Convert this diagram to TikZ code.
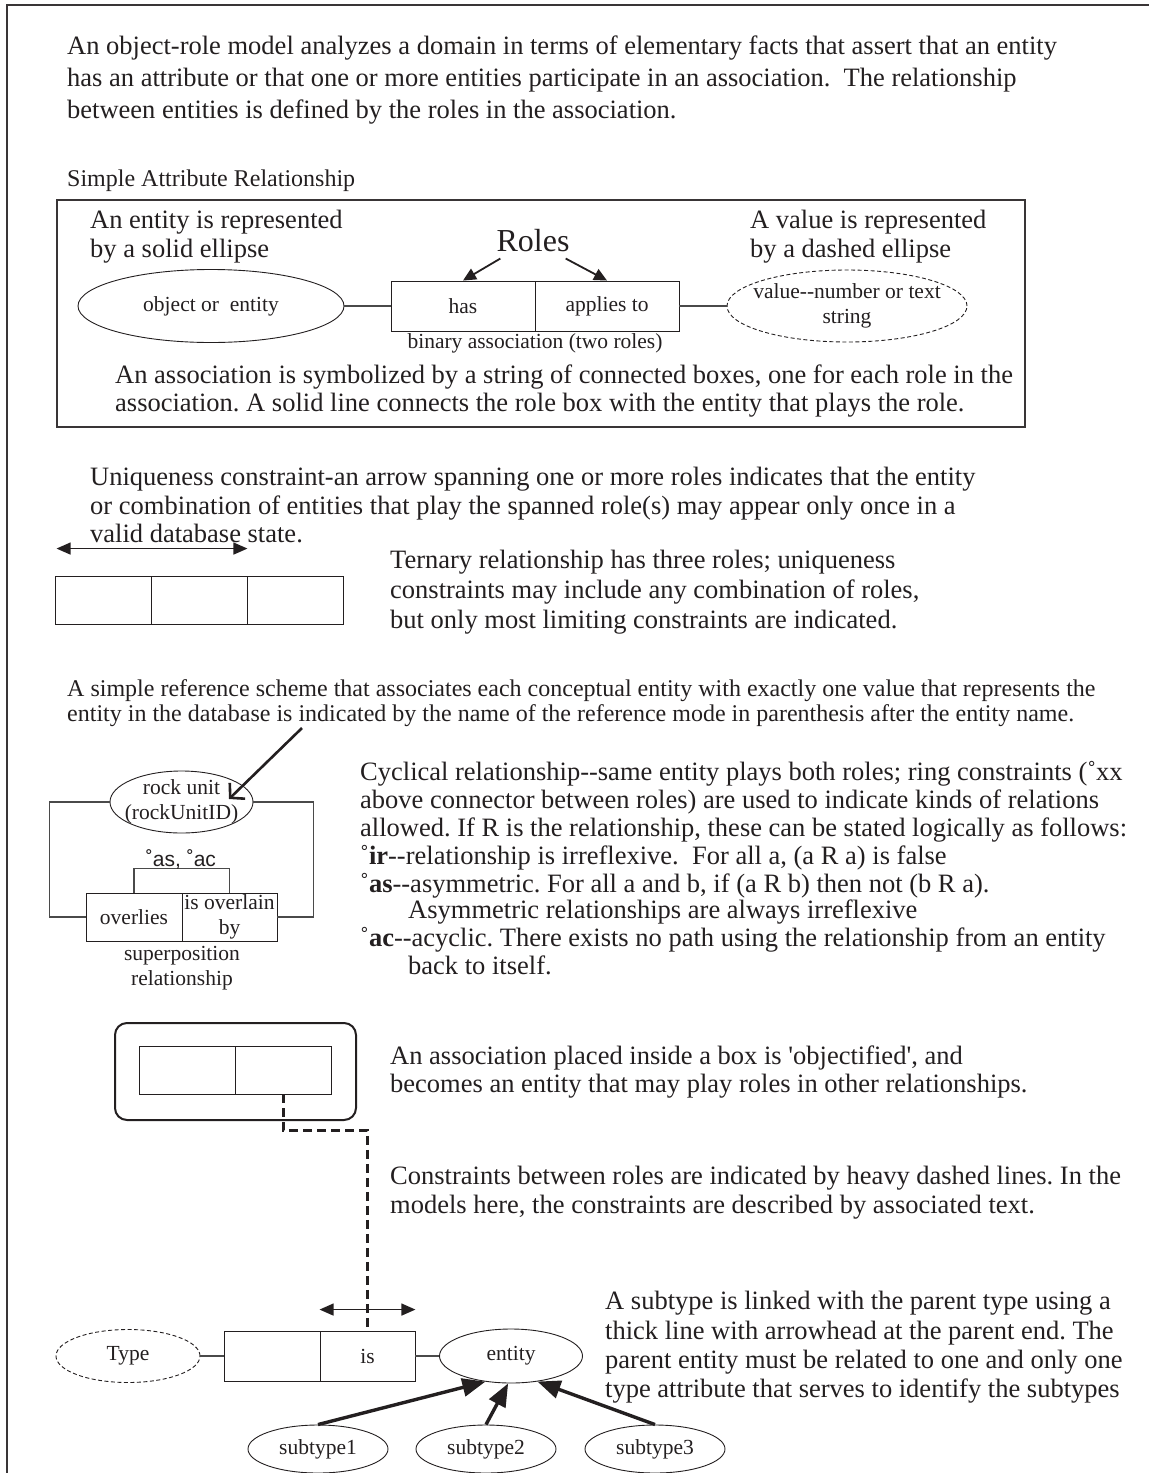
\documentclass[tikz,border=0pt]{standalone}
\usepackage{fontspec}
\setmainfont{Liberation Serif}
\newfontfamily\labelsans{Liberation Sans}
\usetikzlibrary{shapes.geometric,arrows.meta,calc}
\definecolor{ink}{HTML}{231F20}
\definecolor{wire}{HTML}{4A4A4A}
\frenchspacing

\begin{document}
\begin{tikzpicture}[x=1pt,y=-1pt,
  txt/.style={font=\fontsize{26.5}{30}\selectfont, text=ink, inner sep=0, anchor=base west},
  midtxt/.style={txt, font=\fontsize{24}{28}\selectfont},
  lbl/.style={font=\fontsize{21.5}{25}\selectfont, text=ink, inner sep=0, align=center},
  ent/.style={ellipse, draw=ink, line width=0.9, inner sep=0},
  val/.style={ent, dash pattern=on 4pt off 2.5pt},
  role/.style={rectangle, draw=ink, line width=0.9, lbl},
  link/.style={draw=wire, line width=1.3},
  panel/.style={draw=ink!90, line width=2},
  uniq/.style={draw=ink, line width=1.3, {Triangle[length=14pt,width=12pt]}-{Triangle[length=14pt,width=12pt]}},
  rolearrow/.style={draw=ink, line width=1.8, -{Triangle[length=13pt,width=12pt]}},
  refarrow/.style={draw=ink, line width=2.6, -{Straight Barb[length=10pt,width=22pt,line width=2.6pt]}},
  subarrow/.style={draw=ink, line width=3.4, -{Triangle[length=23pt,width=18pt]}},
  heavydash/.style={draw=ink, line width=3, dash pattern=on 9pt off 5pt},
]
\useasboundingbox (0,0) rectangle (1149,1473);

% page frame (top and left rules)
\draw[panel] (7,1473) -- (7,5) -- (1149,5);

% introduction
\node[txt] (introA) at (67,54) {An object-role model analyzes a domain in terms of elementary facts that assert that an entity};
\node[txt] (introB) at (67,86) {has an attribute or that one or more entities participate in an association.\ \ The relationship};
\node[txt] (introC) at (67,118) {between entities is defined by the roles in the association.};

% ---- simple attribute relationship
\node[midtxt] (satitle) at (67,186) {Simple Attribute Relationship};
\draw[panel] (57,200) rectangle (1025,427);

\node[txt] (entA) at (90,228) {An entity is represented};
\node[txt] (entB) at (90,257) {by a solid ellipse};
\node[txt] (valA) at (750,228) {A value is represented};
\node[txt] (valB) at (750,257) {by a dashed ellipse};

\node[ent, minimum width=266, minimum height=73,
      label={[lbl]center:object or\ \ entity}] (obj) at (211,306) {};
\node[role, minimum width=144, minimum height=50] (has) at (463,306) {has};
\node[role, minimum width=144, minimum height=50] (applies) at (607,306) {applies to};
\node[val, minimum width=240, minimum height=72,
      label={[lbl]center:value-{}-number or text\\string}] (value) at (847,306) {};
\draw[link] (obj.east) -- (has.west);
\draw[link] (applies.east) -- (value.west);

\node[font=\fontsize{32}{36}\selectfont, text=ink, inner sep=0, anchor=base] (roles) at (533,251) {Roles};
\draw[rolearrow] ($(roles.south west)+(4,7)$) -- (has.north);
\draw[rolearrow] ($(roles.south east)+(-4,7)$) -- (applies.north);

\node[lbl, anchor=base] (binary) at (535,348) {binary association (two roles)};

\node[txt] (assocA) at (115,383) {An association is symbolized by a string of connected boxes, one for each role in the};
\node[txt] (assocB) at (115,411) {association. A solid line connects the role box with the entity that plays the role.};

% ---- uniqueness constraint
\node[txt] (uniqA) at (90,485) {Uniqueness constraint-an arrow spanning one or more roles indicates that the entity};
\node[txt] (uniqB) at (90,514) {or combination of entities that play the spanned role(s) may appear only once in a};
\node[txt] (uniqC) at (90,542) {valid database state.};

\node[role, minimum width=96, minimum height=48] (tA) at (103,600) {};
\node[role, minimum width=96, minimum height=48] (tB) at (199,600) {};
\node[role, minimum width=96, minimum height=48] (tC) at (295,600) {};
\coordinate (uL) at ($(tA.north west)+(2,-27)$);
\coordinate (uR) at ($(tB.north east)+(0,-27)$);
\draw[uniq] (uL) -- (uR);

\node[txt] (ternA) at (390,568) {Ternary relationship has three roles; uniqueness};
\node[txt] (ternB) at (390,598) {constraints may include any combination of roles,};
\node[txt] (ternC) at (390,628) {but only most limiting constraints are indicated.};

% ---- reference scheme and ring constraints
\node[midtxt] (refA) at (67,696) {A simple reference scheme that associates each conceptual entity with exactly one value that represents the};
\node[midtxt] (refB) at (67,721) {entity in the database is indicated by the name of the reference mode in parenthesis after the entity name.};

\node[ent, minimum width=143, minimum height=62,
      label={[lbl]center:rock unit\\(rockUnitID)}] (rock) at (181.5,802) {};
\coordinate (refTail) at (302,728);
\coordinate (refTip) at (229,799);
\draw[refarrow] (refTail) -- (refTip);

\node[role, minimum width=96, minimum height=48] (over) at (134,917) {overlies};
\node[role, minimum width=95, minimum height=48] (overb) at (229.5,917) {is overlain\\by};
\draw[link] (rock.west) -- ++(-60,0) |- (over.west);
\draw[link] (rock.east) -- ++(60,0) |- (overb.east);
\draw[link] (over.north) -- ++(0,-24) -| (overb.north);
\node[font=\labelsans\fontsize{21}{24}\selectfont, text=ink, inner sep=0, anchor=base] (ringlbl) at (181,866) {˚as, ˚ac};
\node[lbl, anchor=base] (supA) at (182,960) {superposition};
\node[lbl, anchor=base] (supB) at (182,985) {relationship};

\node[txt] (cycA) at (360,780) {Cyclical relationship-{}-same entity plays both roles; ring constraints (˚xx};
\node[txt] (cycB) at (360,808) {above connector between roles) are used to indicate kinds of relations};
\node[txt] (cycC) at (360,836) {allowed. If R is the relationship, these can be stated logically as follows:};
\node[txt] (cycD) at (360,864) {˚\textbf{ir}-{}-relationship is irreflexive.\ \ For all a, (a R a) is false};
\node[txt] (cycE) at (360,892) {˚\textbf{as}-{}-asymmetric. For all a and b, if (a R b) then not (b R a).};
\node[txt] (cycF) at (408,918) {Asymmetric relationships are always irreflexive};
\node[txt] (cycG) at (360,946) {˚\textbf{ac}-{}-acyclic. There exists no path using the relationship from an entity};
\node[txt] (cycH) at (408,974) {back to itself.};

% ---- objectified association
\node[draw=ink, line width=2, rounded corners=12, minimum width=241, minimum height=97, inner sep=0] (objbox) at (235.5,1071.5) {};
\node[role, minimum width=96, minimum height=48] (oA) at (187,1070) {};
\node[role, minimum width=96, minimum height=48] (oB) at (283,1070) {};

\node[txt] (objA) at (390,1064) {An association placed inside a box is \textquotesingle objectified\textquotesingle, and};
\node[txt] (objB) at (390,1092) {becomes an entity that may play roles in other relationships.};

\node[txt] (conA) at (390,1184) {Constraints between roles are indicated by heavy dashed lines. In the};
\node[txt] (conB) at (390,1213) {models here, the constraints are described by associated text.};

% ---- subtypes
\node[val, minimum width=144, minimum height=53, label={[lbl]center:Type}] (type) at (128,1356) {};
\node[role, minimum width=96, minimum height=50] (isA) at (272,1356) {};
\node[role, minimum width=95, minimum height=50] (isB) at (367.5,1356) {is};
\node[ent, minimum width=143, minimum height=54, label={[lbl]center:entity}] (entity) at (511,1356) {};
\draw[link] (type.east) -- (isA.west);
\draw[link] (isB.east) -- (entity.west);

\coordinate (iL) at ($(isB.north west)+(0,-21)$);
\coordinate (iR) at ($(isB.north east)+(0,-21)$);
\draw[uniq] (iL) -- (iR);

\draw[heavydash] (oB.south) -- ++(0,36) -| (isB.north);

\node[ent, minimum width=140, minimum height=48, label={[lbl]center:subtype1}] (stA) at (318,1449) {};
\node[ent, minimum width=140, minimum height=48, label={[lbl]center:subtype2}] (stB) at (486,1449) {};
\node[ent, minimum width=140, minimum height=48, label={[lbl]center:subtype3}] (stC) at (655,1449) {};
\draw[subarrow] (stA.north) -- (entity.225);
\draw[subarrow] (stB.north) -- (entity.264);
\draw[subarrow] (stC.north) -- (entity.316);

\node[txt] (subA) at (605,1309) {A subtype is linked with the parent type using a};
\node[txt] (subB) at (605,1339) {thick line with arrowhead at the parent end. The};
\node[txt] (subC) at (605,1368) {parent entity must be related to one and only one};
\node[txt] (subD) at (605,1397) {type attribute that serves to identify the subtypes};
\end{tikzpicture}
\end{document}
